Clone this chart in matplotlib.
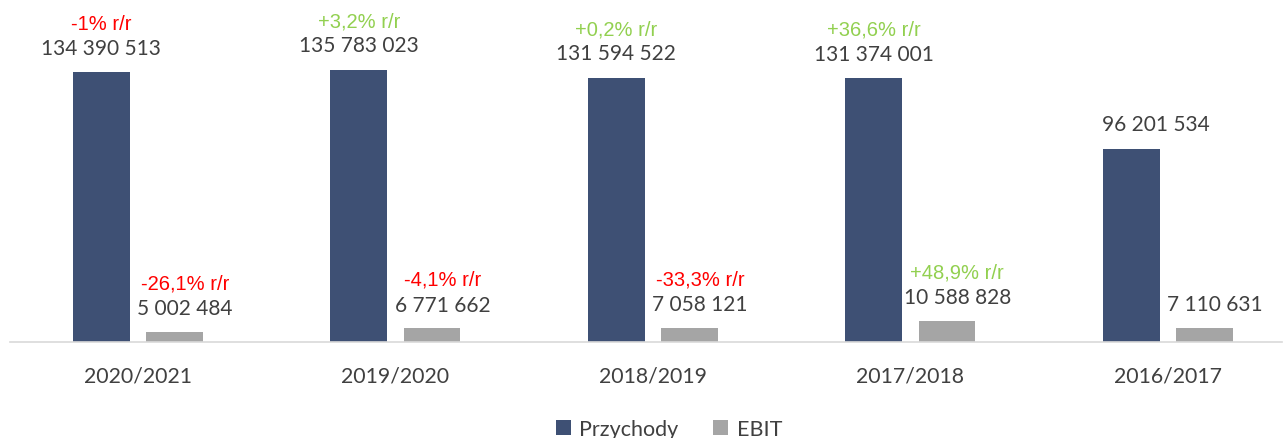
import numpy as np
import matplotlib.pyplot as plt

# data
years = ['2020/2021', '2019/2020', '2018/2019', '2017/2018', '2016/2017']
przychody = [134390513, 135783023, 131594522, 131374001, 96201534]
ebit = [5002484, 6771662, 7058121, 10588828, 7110631]
przychody_rr = ['-1% r/r', '+3,2% r/r', '+0,2% r/r', '+36,6% r/r', None]
ebit_rr = ['-26,1% r/r', '-4,1% r/r', '-33,3% r/r', '+48,9% r/r', None]

navy = '#3E5074'
grey = '#A5A5A5'
txt = '#404040'
red = '#FF0000'
green = '#92D050'

def fmt(v):
    return f'{v:,}'.replace(',', ' ')

def rr_color(s):
    return red if s.startswith('-') else green

W, H = 1286, 439
fig = plt.figure(figsize=(W / 100, H / 100), dpi=100)
ax = fig.add_axes([10 / W, (H - 343) / H, 1272 / W, 343 / H])

x = np.arange(len(years))
bw = 0.221
off = 0.142
ax.bar(x - off, przychody, bw, color=navy, label='Przychody')
ax.bar(x + off, ebit, bw, color=grey, label='EBIT')

ax.set_xlim(-0.497, 4.443)
ax.set_ylim(0, 171e6)

vfont = dict(family='Lato', fontsize=15, color=txt)
pfont = dict(family='Liberation Sans', fontsize=14.5)

for i in range(len(years)):
    # Przychody labels
    dx = 0.095 if i == 4 else 0
    ax.annotate(fmt(przychody[i]), (x[i] - off + dx, przychody[i]),
                xytext=(0, 10.5), textcoords='offset points',
                ha='center', va='bottom', **vfont)
    if przychody_rr[i]:
        ax.annotate(przychody_rr[i], (x[i] - off, przychody[i]),
                    xytext=(0, 28.5), textcoords='offset points',
                    ha='center', va='bottom', color=rr_color(przychody_rr[i]), **pfont)
    # EBIT labels
    ax.annotate(fmt(ebit[i]), (x[i] + off + 0.04, ebit[i]),
                xytext=(0, 10), textcoords='offset points',
                ha='center', va='bottom', **vfont)
    if ebit_rr[i]:
        ax.annotate(ebit_rr[i], (x[i] + off + 0.04, ebit[i]),
                    xytext=(0, 28.5), textcoords='offset points',
                    ha='center', va='bottom', color=rr_color(ebit_rr[i]), **pfont)

ax.set_xticks(x)
ax.set_xticklabels(years, family='Lato', fontsize=15.3, color=txt)
ax.tick_params(axis='x', length=0, pad=17)
ax.set_yticks([])
for s in ['top', 'right', 'left']:
    ax.spines[s].set_visible(False)
ax.spines['bottom'].set_color('#D9D9D9')
ax.spines['bottom'].set_linewidth(1.2)

fig.legend(loc='lower center', bbox_to_anchor=(0.52, -0.047), ncol=2, frameon=False,
           prop={'family': 'Lato', 'size': 15.5}, labelcolor=txt,
           handlelength=0.7, handleheight=0.7, handletextpad=0.4, columnspacing=1.6)

fig.savefig('out.png', dpi=100)
